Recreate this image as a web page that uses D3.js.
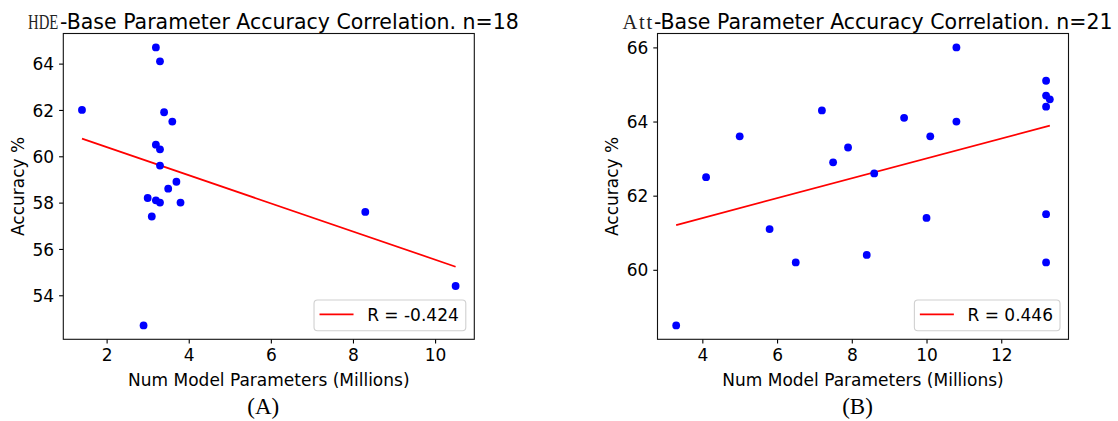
<!DOCTYPE html>
<html>
<head>
<meta charset="utf-8">
<script src="https://cdn.jsdelivr.net/npm/d3@7"></script>
<style>
  html, body { margin: 0; padding: 0; background: #fff; }
  svg { display: block; }
</style>
</head>
<body>
<svg id="chart" width="1118" height="421" font-family="DejaVu Sans, sans-serif"></svg>
<script>
// HDE-base models: parameter count (millions) and accuracy (%)
const hdeParams   = [3.2, 3.3, 1.4, 3.4, 3.6, 3.2, 3.3, 3.3, 3.7, 3.5, 3.0, 3.2, 3.3, 3.8, 3.1, 8.3, 10.5, 2.9];
const hdeAccuracy = [64.7, 64.1, 62.0, 61.9, 61.5, 60.5, 60.3, 59.6, 58.9, 58.6, 58.2, 58.1, 58.0, 58.0, 57.4, 57.6, 54.4, 52.7];

// Att-base models
const attParams   = [10.8, 13.2, 13.2, 13.3, 13.2, 7.2, 9.4, 10.8, 5.0, 10.1, 7.9, 7.5, 4.1, 8.6, 10.0, 13.2, 5.8, 8.4, 6.5, 13.2, 3.3];
const attAccuracy = [66.0, 65.1, 64.7, 64.6, 64.4, 64.3, 64.1, 64.0, 63.6, 63.6, 63.3, 62.9, 62.5, 62.6, 61.4, 61.5, 61.1, 60.4, 60.2, 60.2, 58.5];

// Tick values and labels
const hdeXTicks = [2, 4, 6, 8, 10];
const hdeYTicks = [54, 56, 58, 60, 62, 64];
const attXTicks = [4, 6, 8, 10, 12];
const attYTicks = [60, 62, 64, 66];

const titlePrefixes = ["HDE", "Att"];
const titleMain = ["-Base Parameter Accuracy Correlation. n=18", "-Base Parameter Accuracy Correlation. n=21"];
const legendLabels = ["R = -0.424", "R = 0.446"];
const captions = ["(A)", "(B)"];
const xLabel = "Num Model Parameters (Millions)";
const yLabel = "Accuracy %";

const svg = d3.select("#chart");
const SANS = "DejaVu Sans, sans-serif";
const SERIF = "Liberation Serif, DejaVu Serif, serif";

const panels = [
  { x: hdeParams, y: hdeAccuracy, xt: hdeXTicks, yt: hdeYTicks, left: 63.3, prefixW: 30.3 },
  { x: attParams, y: attAccuracy, xt: attXTicks, yt: attYTicks, left: 657.5, prefixW: 29.5 }
];
const axW = 411, axTop = 33.5, axBottom = 339.3;

// matplotlib-style 5% padding around the data extent
function padded(vals) {
  const [lo, hi] = d3.extent(vals);
  const m = (hi - lo) * 0.05;
  return [lo - m, hi + m];
}

// ordinary least squares fit
function fit(xs, ys) {
  const mx = d3.mean(xs), my = d3.mean(ys);
  let sxy = 0, sxx = 0;
  xs.forEach((x, i) => { sxy += (x - mx) * (ys[i] - my); sxx += (x - mx) * (x - mx); });
  const b = sxy / sxx;
  return { slope: b, intercept: my - b * mx };
}

panels.forEach((p, k) => {
  const x = d3.scaleLinear().domain(padded(p.x)).range([p.left, p.left + axW]);
  const y = d3.scaleLinear().domain(padded(p.y)).range([axBottom, axTop]);
  const g = svg.append("g");
  const cx = p.left + axW / 2;

  // axes
  const xa = g.append("g").attr("transform", `translate(0,${axBottom})`)
    .call(d3.axisBottom(x).tickValues(p.xt).tickFormat(d3.format("d")).tickSize(4.2).tickPadding(5));
  const ya = g.append("g").attr("transform", `translate(${p.left},0)`)
    .call(d3.axisLeft(y).tickValues(p.yt).tickFormat(d3.format("d")).tickSize(4.2).tickPadding(5));
  [xa, ya].forEach(a => {
    a.attr("font-family", SANS).attr("font-size", 17);
    a.select(".domain").remove();
    a.selectAll(".tick line").attr("stroke", "#000").attr("stroke-width", 1.1);
    a.selectAll(".tick text").attr("fill", "#000");
  });
  ya.selectAll(".tick text").attr("dy", "0.36em");

  // fitted line
  const f = fit(p.x, p.y);
  const [xmin, xmax] = d3.extent(p.x);
  g.append("line")
    .attr("x1", x(xmin)).attr("y1", y(f.intercept + f.slope * xmin))
    .attr("x2", x(xmax)).attr("y2", y(f.intercept + f.slope * xmax))
    .attr("stroke", "#ff0000").attr("stroke-width", 1.7);

  // points
  g.append("g").selectAll("circle").data(p.x.map((v, i) => [v, p.y[i]])).join("circle")
    .attr("cx", d => x(d[0])).attr("cy", d => y(d[1])).attr("r", 3.9)
    .attr("fill", "#0000ff");

  // frame
  g.append("rect").attr("x", p.left).attr("y", axTop).attr("width", axW).attr("height", axBottom - axTop)
    .attr("fill", "none").attr("stroke", "#111").attr("stroke-width", 1.1);

  // legend (lower right)
  const lg = g.append("g");
  const boxR = p.left + axW - 8.5, boxB = axBottom - 8.6, boxH = 30.7;
  const lt = lg.append("text").attr("font-size", 17).attr("text-anchor", "end")
    .attr("x", boxR - 7).attr("y", boxB - boxH / 2 + 6).text(legendLabels[k]);
  const tw = lt.node().getComputedTextLength();
  const lineEnd = boxR - 7 - tw - 13.6, lineStart = lineEnd - 34;
  const boxL = lineStart - 5.5;
  lg.insert("rect", "text").attr("x", boxL).attr("y", boxB - boxH).attr("width", boxR - boxL).attr("height", boxH)
    .attr("rx", 3.5).attr("fill", "#fff").attr("fill-opacity", 0.8).attr("stroke", "#d0d0d0").attr("stroke-width", 1.1);
  lg.append("line").attr("x1", lineStart).attr("x2", lineEnd)
    .attr("y1", boxB - boxH / 2 - 1).attr("y2", boxB - boxH / 2 - 1)
    .attr("stroke", "#ff0000").attr("stroke-width", 1.7);

  // axis labels
  g.append("text").attr("x", cx).attr("y", 386).attr("text-anchor", "middle").attr("font-size", 17).text(xLabel);
  g.append("text").attr("transform", `translate(${p.left - 39.5},${(axTop + axBottom) / 2}) rotate(-90)`)
    .attr("text-anchor", "middle").attr("font-size", 17).text(yLabel);

  // title: a serif prefix (squeezed or spaced to its slot) then the sans main text
  const tmain = g.append("text").attr("y", 28.5).attr("font-size", 20.5).text(titleMain[k]);
  const mw = tmain.node().getComputedTextLength();
  const gap = 1.8;
  const start = cx + 4.6 - (p.prefixW + gap + mw) / 2;
  tmain.attr("x", start + p.prefixW + gap);

  const pre = g.append("text").attr("x", 0).attr("y", 0)
    .style("font-family", SERIF).attr("font-size", 20.5).attr("fill", "#222")
    .text(titlePrefixes[k]);
  const w0 = pre.node().getComputedTextLength();
  if (w0 > p.prefixW) {
    pre.attr("transform", `translate(${start},28.5) scale(${p.prefixW / w0},1)`);
  } else {
    const n = titlePrefixes[k].length;
    pre.attr("letter-spacing", (p.prefixW - w0) / (n - 1))
      .attr("transform", `translate(${start},28.5)`);
  }

  // panel caption
  g.append("text").attr("x", cx - 5.5).attr("y", 414).attr("text-anchor", "middle")
    .style("font-family", SERIF).attr("font-size", 23).text(captions[k]);
});
</script>
</body>
</html>
